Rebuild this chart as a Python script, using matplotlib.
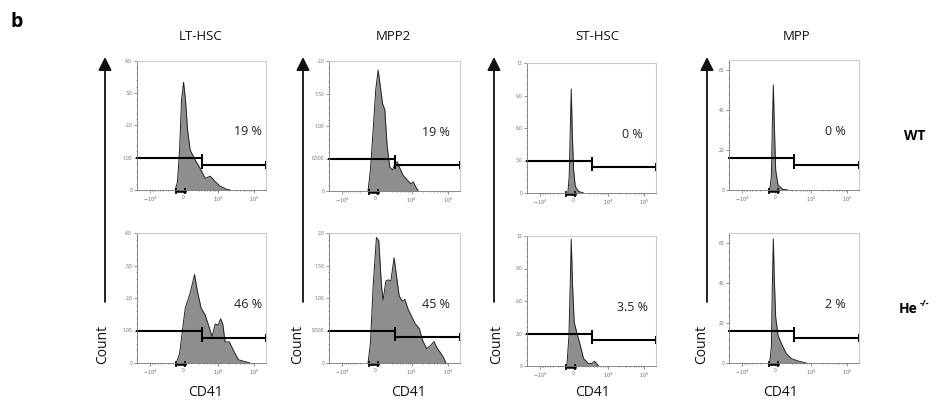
import matplotlib.pyplot as plt
import numpy as np
from matplotlib.transforms import blended_transform_factory

plt.rcParams['font.family'] = ['Open Sans', 'DejaVu Sans']

W, H = 938, 416

populations = ['LT-HSC', 'MPP2', 'ST-HSC', 'MPP']

# CD41 histograms: x in display channels (0-1000 biex scale), y = count
lt_wt_x = [296, 314, 330, 345, 361, 376, 392, 412, 451, 490, 528, 567, 606, 644, 696, 722]
lt_wt_y = [0, 0.26, 1.24, 2.79, 3.34, 2.79, 1.86, 1.24, 0.93, 0.67, 0.36, 0.43, 0.26, 0.12, 0.02, 0]
lt_he_x = [304, 330, 356, 374, 412, 446, 469, 497, 528, 562, 582, 606, 629, 649, 665, 683, 716, 747, 786, 820, 851, 876]
lt_he_y = [0, 0.29, 1.12, 1.69, 2.15, 2.72, 2.19, 1.69, 1.48, 1.07, 0.81, 1.20, 1.17, 1.36, 1.19, 0.65, 0.65, 0.39, 0.10, 0.06, 0.03, 0]

mpp2_wt_x = [298, 316, 337, 357, 375, 395, 408, 426, 444, 464, 485, 503, 520, 541, 566, 597, 625, 643, 663, 681]
mpp2_wt_y = [0, 0.32, 0.94, 1.56, 1.86, 1.56, 1.35, 1.25, 0.68, 0.37, 0.32, 0.42, 0.45, 0.35, 0.24, 0.17, 0.11, 0.14, 0.06, 0]
mpp2_he_x = [298, 316, 337, 362, 380, 401, 413, 434, 454, 472, 497, 515, 536, 561, 579, 605, 630, 656, 689, 714, 745, 776, 801, 827, 847, 872, 893]
mpp2_he_y = [0, 0.30, 1.18, 1.93, 1.88, 1.18, 0.97, 1.26, 1.28, 1.26, 1.62, 1.34, 1.03, 0.95, 0.98, 0.82, 0.72, 0.61, 0.53, 0.35, 0.22, 0.27, 0.33, 0.22, 0.17, 0.09, 0]

st_wt_x = [317, 327, 335, 343, 351, 361, 374, 399, 438]
st_wt_y = [0, 1.55, 5.57, 9.6, 5.57, 2.17, 0.62, 0.15, 0]
st_he_x = [309, 325, 335, 343, 353, 366, 387, 412, 438, 477, 503, 521, 536, 554]
st_he_y = [0, 2.74, 7.45, 11.7, 7.45, 4.0, 3.05, 1.95, 0.69, 0.22, 0.22, 0.44, 0.28, 0]

mpp_wt_x = [313, 326, 333, 341, 349, 359, 377, 415, 454]
mpp_wt_y = [0, 6.7, 31.7, 52.5, 31.7, 10, 2.5, 0.3, 0]
mpp_he_x = [313, 326, 333, 341, 349, 359, 377, 403, 441, 479, 531, 595]
mpp_he_y = [0, 8, 38, 62, 41, 23, 13.8, 9.7, 4.7, 2.2, 1, 0]

wt_curves = [(lt_wt_x, lt_wt_y), (mpp2_wt_x, mpp2_wt_y), (st_wt_x, st_wt_y), (mpp_wt_x, mpp_wt_y)]
he_curves = [(lt_he_x, lt_he_y), (mpp2_he_x, mpp2_he_y), (st_he_x, st_he_y), (mpp_he_x, mpp_he_y)]

pct_wt = ['19 %', '19 %', '0 %', '0 %']
pct_he = ['46 %', '45 %', '3.5 %', '2 %']

y_max = [4.0, 2.0, 12, 65]
y_ticks = [[0, 1, 2, 3, 4], [0, 0.5, 1, 1.5, 2], [0, 3, 6, 9, 12], [0, 20, 40, 60]]
y_ticklabels = [['0', '1.00', '2.0', '3.0', '4.0'],
                ['0', '0.500', '1.00', '1.50', '2.0'],
                ['0', '3.0', '6.0', '9.0', '12'],
                ['0', '20', '40', '60']]

# gate heights (left / right bar) and split position
gate_left = [1.0, 0.5, 3.0, 16.2]
gate_right = [0.78, 0.40, 2.4, 12.6]
gate_split = 500

x_major = [100, 355, 630, 910]
x_labels = [r'$-10^4$', '0', r'$10^4$', r'$10^5$']

# minor ticks on the biex axis
dec = 910 - 630
x_minor = [630 + dec * np.log10(m) for m in range(2, 10)]
x_minor += [630 + dec * np.log10(m / 10) for m in range(3, 10)]
x_minor += [355 - (630 + dec * np.log10(m / 10) - 355) * 0.92 for m in range(3, 10)]

# panel boxes in pixels
col_x = [(137, 266), (329, 460), (527, 656), (729, 859)]
row_top = [(61, 190), (61, 191), (63, 193), (60, 190)]
row_bot = [(233, 363), (233, 363), (236, 366), (233, 363)]

fig = plt.figure(figsize=(W / 100, H / 100), dpi=100)


def draw_panel(box_x, box_y, curve, pct, col):
    ax = fig.add_axes([box_x[0] / W, 1 - box_y[1] / H,
                       (box_x[1] - box_x[0]) / W, (box_y[1] - box_y[0]) / H])
    x, y = curve
    ax.fill_between(x, y, color='#8e8e8e', lw=0)
    ax.plot(x, y, color='#222222', lw=0.7)
    ax.set_xlim(0, 1000)
    ax.set_ylim(0, y_max[col])

    gl, gr = gate_left[col], gate_right[col]
    ax.plot([0, gate_split], [gl, gl], color='k', lw=1.5, marker='|',
            ms=6, mew=1.4, markevery=[1], clip_on=False)
    ax.plot([gate_split, 1000], [gr, gr], color='k', lw=1.5, marker='|',
            ms=6, mew=1.4, clip_on=False)

    px = 0.86 if col == 0 else 0.82
    ax.text(px, 0.45, pct, transform=ax.transAxes, ha='center', va='center',
            fontsize=9, color='#222222')

    ax.set_xticks(x_major)
    ax.set_xticklabels(x_labels)
    ax.set_xticks(x_minor, minor=True)
    ax.set_yticks(y_ticks[col])
    ax.set_yticklabels(y_ticklabels[col])
    ax.yaxis.set_minor_locator(plt.MultipleLocator(y_ticks[col][1] / 5))
    ax.tick_params(which='both', labelsize=3.5, length=2, width=0.5,
                   colors='#666666', pad=1.5)
    ax.tick_params(which='minor', length=1)
    for s in ['left', 'bottom']:
        ax.spines[s].set_color('#777777')
        ax.spines[s].set_linewidth(0.6)
    for s in ['top', 'right']:
        ax.spines[s].set_color('#cccccc')
        ax.spines[s].set_linewidth(0.8)

    # linear region marker around zero
    tr = blended_transform_factory(ax.transData, ax.transAxes)
    ax.plot([305, 375], [-0.01, -0.01], transform=tr, color='k', lw=1.8,
            marker='|', ms=4, mew=1.2, clip_on=False)
    return ax


for i in range(4):
    draw_panel(col_x[i], row_top[i], wt_curves[i], pct_wt[i], i)
    draw_panel(col_x[i], row_bot[i], he_curves[i], pct_he[i], i)


def ftext(x, y, s, **kw):
    fig.text(x / W, 1 - y / H, s, **kw)


# column titles
title_x = [201, 393, 597, 797]
for i, t in enumerate(populations):
    ftext(title_x[i], 37, t, ha='center', va='center', fontsize=9.5, color='#111111')

# count arrows, labels
arrow_x = [105, 303, 494, 707]
count_x = [103, 298, 497, 702]
cd41_x = [205, 408, 592, 780]
for i in range(4):
    fig.add_artist(plt.Annotation('', xy=(arrow_x[i] / W, 1 - 57 / H),
                                  xytext=(arrow_x[i] / W, 1 - 302 / H),
                                  xycoords='figure fraction',
                                  arrowprops=dict(arrowstyle='-|>,head_length=0.8,head_width=0.4',
                                                  color='#111111', lw=1.3,
                                                  mutation_scale=10, shrinkA=0, shrinkB=0)))
    ftext(count_x[i], 344, 'Count', rotation=90, ha='center', va='center',
          fontsize=10, color='#111111')
    ftext(cd41_x[i], 392, 'CD41', ha='center', va='center', fontsize=10, color='#111111')

ftext(17, 22, 'b', ha='center', va='center', fontsize=14, fontweight='bold')
ftext(915, 136, 'WT', ha='center', va='center', fontsize=10, fontweight='bold')
ftext(908, 309, 'He', ha='center', va='center', fontsize=10, fontweight='bold')
ftext(920, 303, '-/-', ha='left', va='center', fontsize=6.5, fontweight='bold')

plt.savefig('out.png', dpi=100)
